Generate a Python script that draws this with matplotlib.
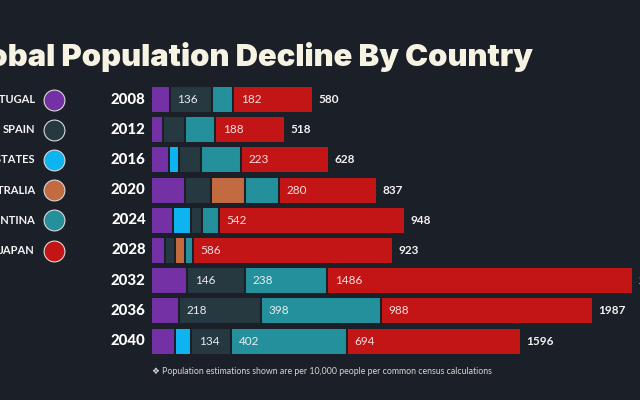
import matplotlib
matplotlib.use('Agg')
import matplotlib.pyplot as plt
import matplotlib.transforms as mtransforms

# ---- data ----
years = ['2008', '2012', '2016', '2020', '2024', '2028', '2032', '2036', '2040']
countries = ['PORTUGAL', 'SPAIN', 'UNITED STATES', 'AUSTRALIA', 'ARGENTINA', 'JAPAN']

# drawn bar lengths per country (stacked left to right:
# Portugal, United States, Spain, Australia, Argentina, Japan)
portugal = [74, 46, 72, 136, 88, 56, 144, 110, 96]
united_states = [0, 0, 38, 0, 72, 0, 0, 0, 64]
spain = [168, 90, 90, 104, 42, 40, 232, 330, 160]
australia = [0, 0, 0, 136, 0, 40, 0, 0, 0]
argentina = [86, 120, 160, 136, 70, 32, 328, 480, 464]
japan = [320, 280, 352, 392, 744, 800, 1224, 848, 696]

# printed labels
spain_labels = ['136', '', '', '', '', '', '146', '218', '134']
argentina_labels = ['', '', '', '', '', '', '238', '398', '402']
japan_labels = ['182', '188', '223', '280', '542', '586', '1486', '988', '694']
total_labels = ['580', '518', '628', '837', '948', '923', '2254', '1987', '1596']

title = 'Global Population Decline By Country'
footnote = '\u2756 Population estimations shown are per 10,000 people per common census calculations'

# ---- style ----
BG = '#1b1f27'
colors = {
    'PORTUGAL': '#7431a6',
    'SPAIN': '#263840',
    'UNITED STATES': '#0db4f0',
    'AUSTRALIA': '#c26a40',
    'ARGENTINA': '#24909c',
    'JAPAN': '#c41516',
}
FONT = ['Lato', 'DejaVu Sans']
plt.rcParams['font.family'] = FONT

fig = plt.figure(figsize=(6.4, 4.0), dpi=100, facecolor=BG)
ax = fig.add_axes([151 / 640, 1 - 356.2 / 400, (640 - 151) / 640, 271.8 / 400])
ax.set_facecolor(BG)
ax.set_xlim(0, (640 - 151) * 4)
ax.set_ylim(len(years) - 0.5, -0.5)
ax.axis('off')

stack = [('PORTUGAL', portugal, None),
         ('UNITED STATES', united_states, None),
         ('SPAIN', spain, spain_labels),
         ('AUSTRALIA', australia, None),
         ('ARGENTINA', argentina, argentina_labels),
         ('JAPAN', japan, japan_labels)]

ypos = list(range(len(years)))
lefts = [0] * len(years)
for name, vals, labels in stack:
    for i, v in enumerate(vals):
        if v <= 0:
            continue
        ax.barh(i, v, left=lefts[i], height=0.89, color=colors[name],
                edgecolor=BG, linewidth=1.45)
        if labels and labels[i]:
            txt_col = '#f6dede' if name == 'JAPAN' else '#e8ecee'
            ax.annotate(labels[i], xy=(lefts[i], i), xytext=(5.5, 0),
                        textcoords='offset points', ha='left', va='center',
                        fontsize=8.5, color=txt_col)
        lefts[i] += v

for i in ypos:
    ax.annotate(total_labels[i], xy=(lefts[i], i), xytext=(4, 0),
                textcoords='offset points', ha='left', va='center',
                fontsize=8.5, color='#f2f2f2', fontweight='bold',
                annotation_clip=False)
    ax.annotate(years[i], xy=(0, i), xytext=(-3.8, 0),
                textcoords='offset points', ha='right', va='center',
                fontsize=10.8, color='#ffffff', fontweight='black',
                annotation_clip=False)

# legend on the left
blend = mtransforms.blended_transform_factory(fig.transFigure, ax.transData)
for i, name in enumerate(countries):
    ax.scatter([54 / 640], [i], s=225, color=colors[name], edgecolor='#d9d9d9',
               linewidth=0.8, transform=blend, clip_on=False, zorder=5)
    ax.text(35 / 640, i, name, transform=blend, ha='right', va='center',
            fontsize=8, color='#f4f4f4', fontweight='bold')

fig.text(533 / 640, 1 - 66 / 400, title, ha='right', va='baseline',
         fontsize=22.3, color='#f7f3e3', fontweight='black',
         family=['Inter', 'Lato'])
fig.text(152 / 640, 1 - 371 / 400, footnote, ha='left', va='center',
         fontsize=6.3, color='#d6d6d6', family=FONT)

fig.savefig('out.png', dpi=100, facecolor=BG)
